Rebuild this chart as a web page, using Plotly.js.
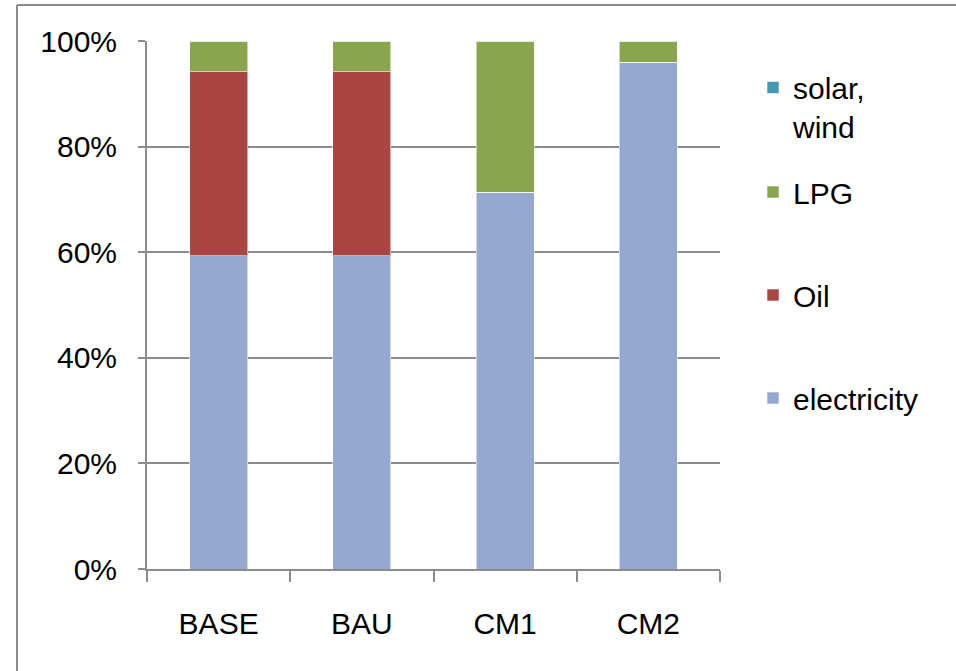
<!DOCTYPE html>
<html>
<head>
<meta charset="utf-8">
<script src="https://cdn.plot.ly/plotly-3.0.1.min.js"></script>
<style>
html,body{margin:0;padding:0;background:#fff;}
#chart{width:956px;height:671px;}
</style>
</head>
<body>
<div id="chart"></div>
<script>
// Data (shares in %)
var categories = ["BASE", "BAU", "CM1", "CM2"];
var electricity = [59.3, 59.3, 71.4, 96.0];
var oil = [34.9, 34.9, 0, 0];
var lpg = [5.8, 5.8, 28.6, 4.0];
var solarWind = [0, 0, 0, 0];

var colors = {
  electricity: "#95A9D0",
  oil: "#A94644",
  lpg: "#89A54E",
  solar: "#4198AF"
};

var FONT = "Liberation Sans, Arial, sans-serif";
var FS = 30;

function bar(name, vals, color, legendId) {
  return {
    type: "bar",
    name: name,
    x: categories,
    y: vals,
    marker: {color: color, line: {color: "rgba(255,255,255,0.55)", width: 1}},
    legend: legendId,
    hoverinfo: "x+y+name"
  };
}

var traces = [
  bar("electricity", electricity, colors.electricity, "legend4"),
  bar("Oil", oil, colors.oil, "legend3"),
  bar("LPG", lpg, colors.lpg, "legend2"),
  bar("solar,<br>wind", solarWind, colors.solar, "legend")
];

// plot area pixels: x 147..720, y 41..569
function px2x(px) { return (px - 147) / 573; }
function py2y(py) { return (569 - py) / 528; }

function legendAt(yPx) {
  return {
    x: px2x(753), xanchor: "left",
    y: py2y(yPx), yanchor: "middle",
    bgcolor: "rgba(0,0,0,0)",
    font: {family: FONT, size: FS, color: "#000"},
    valign: "top",
    itemclick: false, itemdoubleclick: false
  };
}

var layout = {
  width: 956,
  height: 671,
  margin: {l: 147, r: 236, t: 41, b: 102},
  paper_bgcolor: "#ffffff",
  plot_bgcolor: "#ffffff",
  barmode: "stack",
  barnorm: "percent",
  bargap: 0.595,
  showlegend: true,
  font: {family: FONT, size: FS, color: "#000"},
  xaxis: {
    type: "category",
    showgrid: false,
    showline: true,
    linecolor: "#8c8c8c",
    linewidth: 2,
    ticks: "outside",
    tickson: "boundaries",
    ticklen: 11,
    tickwidth: 1.5,
    tickcolor: "#8c8c8c",
    ticklabelstandoff: 27,
    tickfont: {family: FONT, size: FS, color: "#000"},
    fixedrange: true
  },
  yaxis: {
    range: [0, 100],
    tickvals: [0, 20, 40, 60, 80, 100],
    ticktext: ["0%", "20%", "40%", "60%", "80%", "100%"],
    showgrid: true,
    gridcolor: "#8c8c8c",
    gridwidth: 2,
    zeroline: false,
    showline: true,
    linecolor: "#8c8c8c",
    linewidth: 2,
    ticks: "outside",
    ticklen: 7,
    tickwidth: 2,
    tickcolor: "#8c8c8c",
    ticklabelstandoff: 15,
    tickfont: {family: FONT, size: FS, color: "#000"},
    fixedrange: true
  },
  legend: legendAt(107),
  legend2: legendAt(192),
  legend3: legendAt(295),
  legend4: legendAt(398),
  shapes: [
    {type: "line", xref: "paper", yref: "paper",
     x0: px2x(17), x1: px2x(17), y0: py2y(5), y1: py2y(671),
     line: {color: "#8c8c8c", width: 2}},
    {type: "line", xref: "paper", yref: "paper",
     x0: px2x(17), x1: px2x(960), y0: py2y(5), y1: py2y(5),
     line: {color: "#8c8c8c", width: 2}}
  ]
};

Plotly.newPlot("chart", traces, layout, {displayModeBar: false, staticPlot: false});
</script>
</body>
</html>
